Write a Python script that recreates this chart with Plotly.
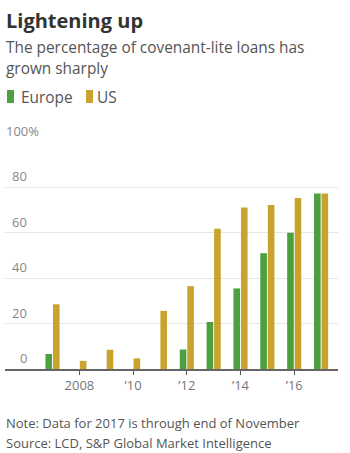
import plotly.graph_objects as go

years = [2007, 2008, 2009, 2010, 2011, 2012, 2013, 2014, 2015, 2016, 2017]
europe = [6.6, None, None, None, None, 8.6, 20.7, 35.5, 51, 60, 77.3]
us = [28.5, 3.6, 8.5, 4.7, 25.6, 36.5, 61.8, 71.2, 72.3, 75.3, 77.3]

x_tickvals = [2008, 2010, 2012, 2014, 2016]
x_ticktext = ["2008", "\u201910", "\u201912", "\u201914", "\u201916"]
y_tickvals = [0, 20, 40, 60, 80, 100]
y_ticktext = ["0", "20", "40", "60", "80", "100%"]

GREEN = "#4e9f3f"
GOLD = "#c8a42f"
FONT = "Open Sans"

W, H = 350, 453
ML, MR, MT, MB = 5, 12, 142, 84


def px(xp):
    return (xp - ML) / (W - ML - MR)


def py(yp):
    return (H - MB - yp) / (H - MT - MB)


fig = go.Figure()
fig.add_trace(go.Bar(x=years, y=europe, name="Europe", marker_color=GREEN, marker_line_width=0))
fig.add_trace(go.Bar(x=years, y=us, name="US", marker_color=GOLD, marker_line_width=0))

annotations = []
annotations.append(dict(text="<b>Lightening up</b>", x=px(4), y=py(20), xref="paper", yref="paper",
                        xanchor="left", yanchor="middle", showarrow=False,
                        font=dict(family=FONT, size=20, color="#333")))
annotations.append(dict(text="The percentage of covenant-lite loans has", x=px(4), y=py(47), xref="paper", yref="paper",
                        xanchor="left", yanchor="middle", showarrow=False,
                        font=dict(family=FONT, size=15.4, color="#555")))
annotations.append(dict(text="grown sharply", x=px(4), y=py(69), xref="paper", yref="paper",
                        xanchor="left", yanchor="middle", showarrow=False,
                        font=dict(family=FONT, size=15.4, color="#555")))
annotations.append(dict(text="Europe", x=px(19), y=py(97), xref="paper", yref="paper",
                        xanchor="left", yanchor="middle", showarrow=False,
                        font=dict(family=FONT, size=15.4, color="#555")))
annotations.append(dict(text="US", x=px(95), y=py(97), xref="paper", yref="paper",
                        xanchor="left", yanchor="middle", showarrow=False,
                        font=dict(family=FONT, size=15.4, color="#555")))
annotations.append(dict(text="Note: Data for 2017 is through end of November", x=px(4), y=py(423), xref="paper", yref="paper",
                        xanchor="left", yanchor="middle", showarrow=False,
                        font=dict(family=FONT, size=13, color="#555")))
annotations.append(dict(text="Source: LCD, S&P Global Market Intelligence", x=px(4), y=py(443), xref="paper", yref="paper",
                        xanchor="left", yanchor="middle", showarrow=False,
                        font=dict(family=FONT, size=13, color="#555")))
for v, t in zip(y_tickvals, y_ticktext):
    if t.endswith("%"):
        annotations.append(dict(text=t, x=px(4), y=v, xref="paper", yref="y", xanchor="left", yanchor="bottom",
                                showarrow=False, font=dict(family=FONT, size=13, color="#888")))
    else:
        annotations.append(dict(text=t, x=px(29), y=v, xref="paper", yref="y", xanchor="right", yanchor="bottom",
                                showarrow=False, font=dict(family=FONT, size=13, color="#888")))

shapes = [
    dict(type="rect", xref="paper", yref="paper", x0=px(7), x1=px(14), y0=py(103), y1=py(90),
         fillcolor=GREEN, line_width=0),
    dict(type="rect", xref="paper", yref="paper", x0=px(86), x1=px(93), y0=py(103), y1=py(90),
         fillcolor=GOLD, line_width=0),
]

fig.update_layout(
    width=W, height=H,
    margin=dict(l=ML, r=MR, t=MT, b=MB),
    paper_bgcolor="white", plot_bgcolor="white",
    barmode="group", bargap=0.44, bargroupgap=0.12,
    showlegend=False,
    annotations=annotations, shapes=shapes,
    font=dict(family=FONT),
    xaxis=dict(range=[2005.23, 2017.63], tickvals=x_tickvals, ticktext=x_ticktext,
               ticks="outside", ticklen=4, tickcolor="#555", tickwidth=1,
               showline=True, linecolor="#666", linewidth=1.5,
               showgrid=False, zeroline=False,
               tickfont=dict(family=FONT, size=13, color="#777")),
    yaxis=dict(range=[0, 100], tickvals=y_tickvals, showticklabels=False,
               showgrid=True, gridcolor="#e6e6e6", gridwidth=1, zeroline=False,
               fixedrange=True),
)

fig.write_html("out.html")
